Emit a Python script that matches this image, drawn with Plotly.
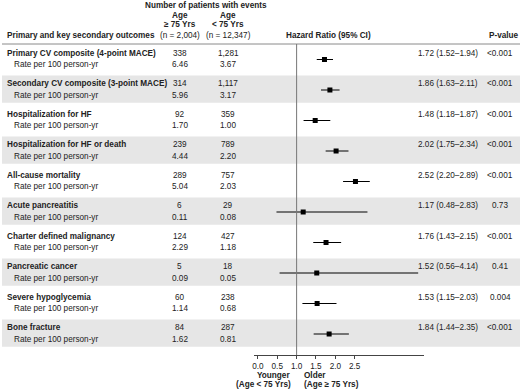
import plotly.graph_objects as go

outcomes = ["Primary CV composite (4-point MACE)", "Secondary CV composite (3-point MACE)",
            "Hospitalization for HF", "Hospitalization for HF or death", "All-cause mortality",
            "Acute pancreatitis", "Charter defined malignancy", "Pancreatic cancer",
            "Severe hypoglycemia", "Bone fracture"]
events_old = [338, 314, 92, 239, 289, 6, 124, 5, 60, 84]
events_young = [1281, 1117, 359, 789, 757, 29, 427, 18, 238, 287]
rate_old = [6.46, 5.96, 1.70, 4.44, 5.04, 0.11, 2.29, 0.09, 1.14, 1.62]
rate_young = [3.67, 3.17, 1.00, 2.20, 2.03, 0.08, 1.18, 0.05, 0.68, 0.81]
hr = [1.72, 1.86, 1.48, 2.02, 2.52, 1.17, 1.76, 1.52, 1.53, 1.84]
ci_lo = [1.52, 1.63, 1.18, 1.75, 2.20, 0.48, 1.43, 0.56, 1.15, 1.44]
ci_hi = [1.94, 2.11, 1.87, 2.34, 2.89, 2.83, 2.15, 4.14, 2.03, 2.35]
pvals = ["<0.001", "<0.001", "<0.001", "<0.001", "<0.001", "0.73", "<0.001", "0.41", "0.004", "<0.001"]
tick_vals = [0.0, 0.5, 1.0, 1.5, 2.0, 2.5]
tick_text = ["0.0", "0.5", "1.0", "1.5", "2.0", "2.5"]

W, H = 520, 389
FONT = "Liberation Sans, Arial, sans-serif"
FS = 8.2
TXT = "#222222"

def px(p):
    return p / W

def py(p):
    return 1 - p / H

rows = list(range(len(outcomes)))
AXIS_PX = 355
ROW0 = 59.5
PITCH = 30.5
y_top = -ROW0 / PITCH
y_bot = (AXIS_PX - ROW0) / PITCH

fig = go.Figure()

fig.add_trace(go.Scatter(
    x=hr, y=rows, mode="markers",
    marker=dict(symbol="square", size=5, color="black"),
    error_x=dict(type="data", symmetric=False,
                 array=[h - c for h, c in zip(ci_hi, hr)],
                 arrayminus=[c - l for c, l in zip(hr, ci_lo)],
                 width=0, thickness=1, color="black"),
    showlegend=False, hoverinfo="skip"))

shapes = []
for i in rows:
    if i % 2 == 1:
        shapes.append(dict(type="rect", xref="paper", yref="y", x0=0, x1=1,
                           y0=i - 14.5 / PITCH, y1=i + 12.8 / PITCH,
                           fillcolor="#e6e6e6", line=dict(width=0), layer="below"))
shapes.append(dict(type="line", xref="paper", yref="paper", x0=0, x1=1,
                   y0=py(44), y1=py(44), line=dict(color="#8a8a8a", width=1)))
shapes.append(dict(type="line", xref="x", yref="paper", x0=1, x1=1,
                   y0=py(44), y1=py(AXIS_PX), line=dict(color="#777777", width=1)))

ann = []

def add(text, x, y, yref="y", xanchor="center", bold=False, size=FS):
    t = f"<b>{text}</b>" if bold else text
    ann.append(dict(text=t, x=x, y=y, xref="paper", yref=yref, xanchor=xanchor,
                    yanchor="middle", showarrow=False, borderpad=0,
                    font=dict(family=FONT, size=size, color=TXT)))

# headers
add("Number of patients with events", px(143), py(5), yref="paper", xanchor="left", bold=True)
add("Age", px(178.5), py(15), yref="paper", bold=True)
add("Age", px(227), py(15), yref="paper", bold=True)
add("≥ 75 Yrs", px(178.5), py(25), yref="paper", bold=True)
add("< 75 Yrs", px(227), py(25), yref="paper", bold=True)
add("(n = 2,004)", px(178.5), py(35), yref="paper")
add("(n = 12,347)", px(227), py(35), yref="paper")
add("Primary and key secondary outcomes", px(4), py(35), yref="paper", xanchor="left", bold=True)
add("Hazard Ratio (95% CI)", px(327.5), py(35), yref="paper", bold=True)
add("P-value", px(504), py(35), yref="paper", bold=True)

for i in rows:
    yt = i - 6.5 / PITCH
    yr = i + 5.0 / PITCH
    add(outcomes[i], px(4), yt, xanchor="left", bold=True)
    add("Rate per 100 person-yr", px(11), yr, xanchor="left")
    add(f"{events_old[i]:,}", px(178.5), yt)
    add(f"{events_young[i]:,}", px(227), yt)
    add(f"{rate_old[i]:.2f}", px(178.5), yr)
    add(f"{rate_young[i]:.2f}", px(227), yr)
    add(f"{hr[i]:.2f} ({ci_lo[i]:.2f}\u2013{ci_hi[i]:.2f})", px(448), yt)
    add(pvals[i], px(500), yt)

add("Younger", px(290), py(375.5), yref="paper", xanchor="right", bold=True)
add("(Age < 75 Yrs)", px(291), py(384), yref="paper", xanchor="right", bold=True)
add("Older", px(302), py(375.5), yref="paper", xanchor="left", bold=True)
add("(Age ≥ 75 Yrs)", px(302), py(384), yref="paper", xanchor="left", bold=True)

fig.update_layout(
    width=W, height=H, margin=dict(l=0, r=0, t=0, b=0),
    paper_bgcolor="white", plot_bgcolor="rgba(0,0,0,0)",
    shapes=shapes, annotations=ann,
    xaxis=dict(domain=[px(253), px(424)], range=[-0.1, 4.3], showgrid=False, zeroline=False,
               showline=True, linecolor="#444444", linewidth=1,
               ticks="outside", ticklen=3, tickcolor="#444444",
               tickvals=tick_vals, ticktext=tick_text, ticklabelstandoff=0,
               tickfont=dict(family=FONT, size=FS, color=TXT), anchor="y"),
    yaxis=dict(domain=[py(AXIS_PX), 1], range=[y_bot, y_top], visible=False,
               showgrid=False, zeroline=False),
)

fig.write_html("out.html", config={"displayModeBar": False},
               post_script="document.body.style.margin='0';document.body.style.overflow='hidden';")
